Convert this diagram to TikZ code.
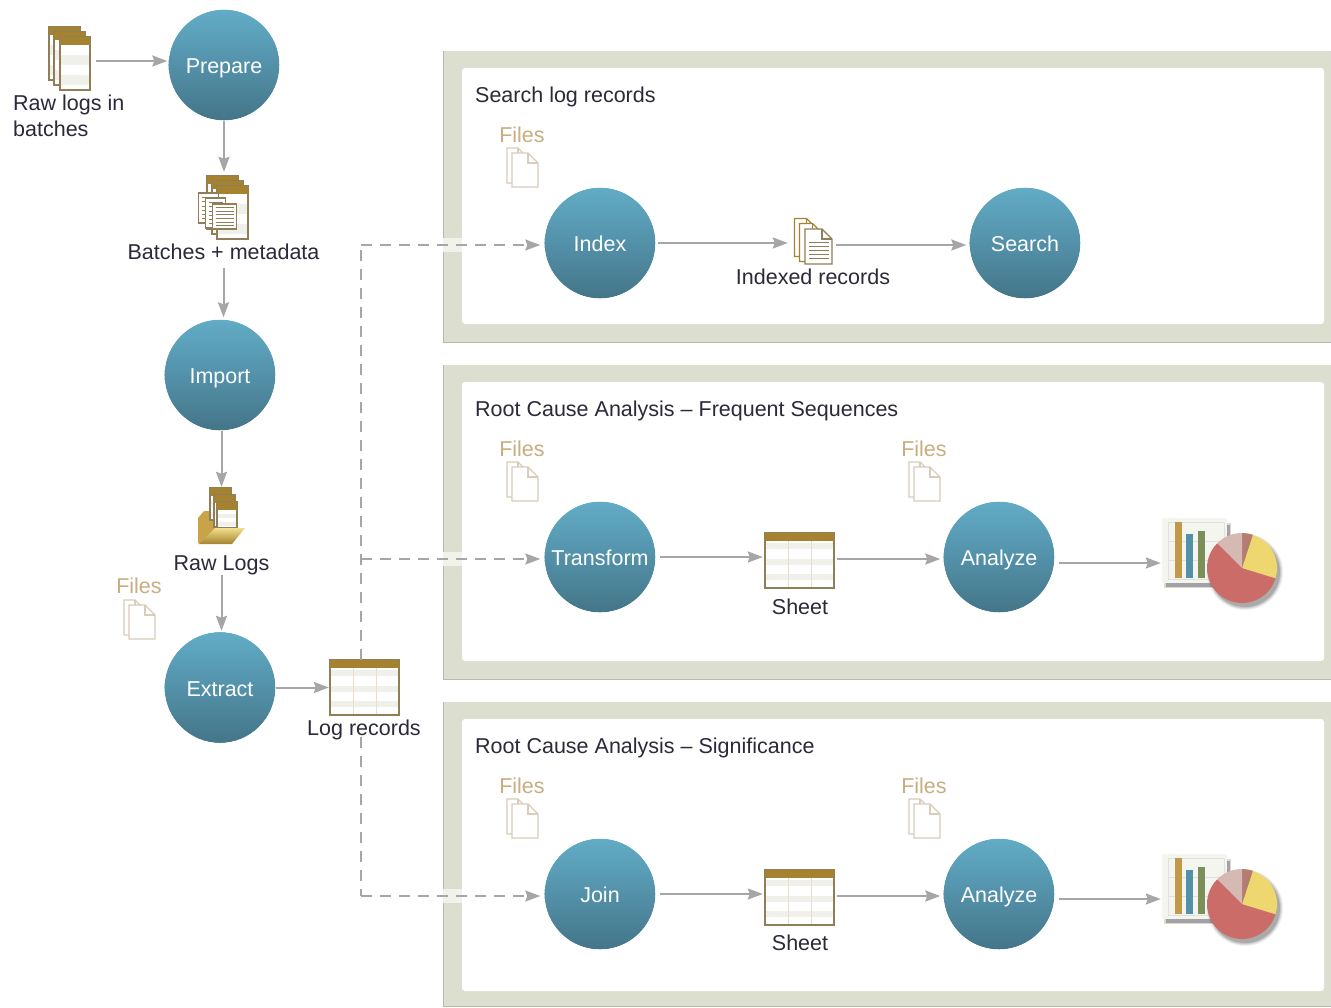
\documentclass[tikz,border=0pt]{standalone}
\usepackage{fontspec}
\setmainfont{Liberation Sans}
\usetikzlibrary{arrows.meta,calc}
\definecolor{panelc}{HTML}{DCDED0}
\definecolor{paneledge}{HTML}{B8BBAB}
\definecolor{patchc}{HTML}{F1F2EB}
\definecolor{flowc}{HTML}{A6A6A6}
\definecolor{inkc}{HTML}{2A2A3A}
\definecolor{filesc}{HTML}{C8AE80}
\definecolor{fileline}{HTML}{D8CCBA}
\definecolor{brownc}{HTML}{A5822F}
\definecolor{pageline}{HTML}{8E7F58}
\definecolor{stripec}{HTML}{F0F0EA}
\definecolor{gridc}{HTML}{EBDDCB}
\definecolor{circtop}{HTML}{62ACC6}
\definecolor{circmid}{HTML}{5391A9}
\definecolor{circbot}{HTML}{447588}
\definecolor{pieR}{HTML}{CB6C68}
\definecolor{pieY}{HTML}{EFD770}
\definecolor{pieB}{HTML}{B47D70}
\definecolor{pieP}{HTML}{D5B9B2}
\definecolor{barO}{HTML}{C4984A}
\definecolor{barG}{HTML}{7C8F58}
\definecolor{folderc}{HTML}{C9A347}
\tikzset{
  step node/.style={circle,minimum size=111pt,inner sep=0pt,top color=circtop,bottom color=circbot,middle color=circmid,text=white,text height=19pt,text depth=2pt,font=\fontsize{21.5}{24}\selectfont},
  txt/.style={inner sep=0pt,text=inkc,text height=16pt,text depth=2pt,font=\fontsize{21.5}{24}\selectfont},
  filestxt/.style={txt,text=filesc},
  iconbox/.style={inner sep=0pt,draw=none,fill=none},
  flow/.style={draw=flowc,line width=2pt,-{Stealth[length=15pt,width=11pt,inset=2pt]}},
  dashflow/.style={draw=flowc,line width=1.6pt,dash pattern=on 11pt off 8pt},
  dashend/.style={dashflow,-{Stealth[length=15pt,width=11pt,inset=2pt,sep=0pt]}},
}
\newcommand{\logpage}[4]{% x y w h
  \fill[white] (#1,#2) rectangle ++(#3,#4);
  \foreach \k in {1,3}{\fill[stripec] (#1,{#2+8+\k*(#4-8)/4.5}) rectangle ++(#3,{(#4-8)/4.5});}
  \draw[pageline,line width=1.1pt] (#1,#2) rectangle ++(#3,#4);
  \fill[brownc] (#1,#2) rectangle ++(#3,8);
}
\newcommand{\textdoc}[4]{% x y w h
  \fill[white] (#1,#2) rectangle ++(#3,#4);
  \draw[pageline,line width=1.1pt] (#1,#2) rectangle ++(#3,#4);
  \foreach \k in {1,...,6}{\draw[pageline,line width=.7pt] ({#1+3},{#2+\k*#4/7}) -- ({#1+#3-3},{#2+\k*#4/7});}
}
\newcommand{\sheeticon}[2]{% top-left
  \begin{scope}[shift={(#1,#2)}]
    \fill[white] (0,0) rectangle (69,55);
    \foreach \k in {16,32,47}{\fill[stripec] (0,\k-6) rectangle (69,\k);}
    \draw[gridc,line width=1pt] (23,8) -- (23,55) (46,8) -- (46,55);
    \draw[pageline,line width=1.2pt] (0,0) rectangle (69,55);
    \fill[brownc] (0,0) rectangle (69,8);
  \end{scope}
}
\newcommand{\onefile}[6]{% x y w h colour width
  \fill[white,draw=#5,line width=#6] (#1,#2) -- ++({#3-10},0) -- ++(10,10) -- ({#1+#3},{#2+#4}) -- (#1,{#2+#4}) -- cycle;
  \draw[#5,line width=#6] ({#1+#3-10},#2) -- ({#1+#3-10},{#2+10}) -- ({#1+#3},{#2+10});
}
\newcommand{\filesicon}[2]{%
  \begin{scope}[shift={(#1,#2)}]
    \onefile{0}{0}{21}{35}{fileline}{1.3pt}
    \onefile{5}{5}{26}{34}{fileline}{1.3pt}
  \end{scope}
}
\newcommand{\chartpie}[2]{% top-left of chart panel
  \begin{scope}[shift={(#1,#2)}]
    \fill[black,opacity=.15] (2,5) rectangle (69,70);
    \fill[black,opacity=.25] (4,7) rectangle (68,69);
    \fill[stripec!70!white] (0,0) rectangle (65,65);
    \draw[black!12,line width=.6pt] (6,4) rectangle (62,61) (6,23) -- (62,23) (6,42) -- (62,42);
    \fill[barO] (13,4) rectangle (20,60);
    \fill[circmid] (24,16) rectangle (31,60);
    \fill[barG] (36,13) rectangle (43,60);
    \begin{scope}[shift={(80,50)}]
      \foreach \r/\o in {38/.06,37/.08,36/.1,35/.14}{\fill[black,opacity=\o] (3,4) circle (\r pt);}
      \fill[pieR] (0,0) -- (-17:35pt) arc (-17:-225:35pt) -- cycle;
      \fill[pieY] (0,0) -- (72:35pt) arc (72:-17:35pt) -- cycle;
      \fill[pieB] (0,0) -- (90:35pt) arc (90:72:35pt) -- cycle;
      \fill[pieP] (0,0) -- (135:35pt) arc (135:90:35pt) -- cycle;
    \end{scope}
  \end{scope}
}
\newcommand{\panelbox}[4]{% outer top, outer bottom, inner top, inner bottom
  \fill[panelc] (443,#1) rectangle (1331,#2);
  \draw[paneledge,line width=1.2pt] (443.6,#1) -- (443.6,{#2-0.6}) -- (1331,{#2-0.6});
  \fill[white,rounded corners=3pt] (462,#3) rectangle (1324,#4);
}
\begin{document}
\begin{tikzpicture}[x=1pt,y=-1pt]
\useasboundingbox (0,0) rectangle (1331,1007);
\fill[white] (0,0) rectangle (1331,1007);
% panels
\panelbox{51}{343}{68}{324}
\panelbox{365}{680}{382}{661}
\panelbox{702}{1007}{719}{991}
\fill[patchc] (443,238) rectangle (462,252);
\fill[patchc] (443,552) rectangle (462,566);
\fill[patchc] (443,889) rectangle (462,903);
% circles
\node[step node] (prepare) at (224,65) {Prepare};
\node[step node] (import) at (220,375) {Import};
\node[step node] (extract) at (220,687.5) {Extract};
\node[step node] (index) at (600,243) {Index};
\node[step node] (search) at (1025,243) {Search};
\node[step node] (transform) at (600,557) {Transform};
\node[step node] (analyzeA) at (999,557) {Analyze};
\node[step node] (join) at (600,894) {Join};
\node[step node] (analyzeB) at (999,894) {Analyze};
\foreach \c in {prepare,import,extract,index,search,transform,analyzeA,join,analyzeB}{
  \draw[white,line width=1.5pt] (\c.center) circle (56.3pt);
}
% icon anchor boxes
\node[iconbox,minimum width=42pt,minimum height=68pt] (rawbatch) at (69,61) {};
\node[iconbox,minimum width=50pt,minimum height=63pt] (batchicon) at (223,207.5) {};
\node[iconbox,minimum width=47pt,minimum height=56pt] (rawicon) at (221.5,516) {};
\node[iconbox,minimum width=69pt,minimum height=55pt] (logrec) at (364.5,687.5) {};
\node[iconbox,minimum width=38pt,minimum height=38pt] (idxicon) at (813,245) {};
\node[iconbox,minimum width=69pt,minimum height=55pt] (sheetA) at (799.5,560.5) {};
\node[iconbox,minimum width=69pt,minimum height=55pt] (sheetB) at (799.5,897) {};
\node[iconbox,minimum width=116pt,minimum height=90pt] (chartA) at (1220,563) {};
\node[iconbox,minimum width=116pt,minimum height=90pt] (chartB) at (1220,899) {};
% raw log batches
\logpage{49}{27}{31}{53}\logpage{54}{32}{31}{53}\logpage{60}{37}{30}{53}
% batches + metadata
\logpage{207}{176}{31}{53}\logpage{212}{181}{31}{53}\logpage{217}{186}{31}{53}
\textdoc{198.5}{193}{20}{30}\textdoc{205.5}{198}{20}{30}\textdoc{212.5}{204}{24}{25}
% raw logs folder
\fill[folderc] (198,518) -- (204,511) -- (212,511) -- (216,515) -- (216,528) -- (200,544) -- (198,543) -- cycle;
\logpage{210}{488}{21}{32}\logpage{214}{495}{21}{32}\logpage{217}{502}{20}{26}
\shade[top color=pieY!80!white,bottom color=brownc] (215,528) -- (245,528) -- (232,544) -- (199,544) -- cycle;
% log records sheet, sheets
\sheeticon{330}{660}
\sheeticon{765}{533}
\sheeticon{765}{870}
% indexed records icon
\begin{scope}
  \onefile{794.5}{218.5}{22}{38}{brownc}{1.2pt}
  \onefile{799.5}{223.5}{23}{38}{brownc}{1.2pt}
  \onefile{805}{229}{27}{35}{pageline}{1.2pt}
  \foreach \k in {242,246,250,254,258}{\draw[pageline,line width=.8pt] (809,\k) -- (829,\k);}
\end{scope}
% files icons
\filesicon{124}{600}
\filesicon{507}{148}
\filesicon{507}{462}
\filesicon{909}{462}
\filesicon{507}{799}
\filesicon{909}{799}
% charts
\chartpie{1162}{518}
\chartpie{1162}{854}
% labels
\node[txt,anchor=west] (lblraw) at (13,103.5) {Raw logs in};
\node[txt,anchor=west] (lblrawb) at (13,129.5) {batches};
\node[txt] (lblbatch) at (223.5,252.5) {Batches + metadata};
\node[txt] (lblrawlogs) at (221.5,563) {Raw Logs};
\node[txt] (lbllog) at (364,728) {Log records};
\node[txt] (lblidx) at (813,277) {Indexed records};
\node[txt] (lblsheetA) at (800,607) {Sheet};
\node[txt] (lblsheetB) at (800,943) {Sheet};
\node[txt,anchor=west] (ttlA) at (475,95) {Search log records};
\node[txt,anchor=west] (ttlB) at (475,409) {Root Cause Analysis – Frequent Sequences};
\node[txt,anchor=west] (ttlC) at (475,746) {Root Cause Analysis – Significance};
\node[filestxt] (fa) at (139,586) {Files};
\node[filestxt] (fb) at (522,135) {Files};
\node[filestxt] (fc) at (522,449) {Files};
\node[filestxt] (fd) at (924,449) {Files};
\node[filestxt] (fe) at (522,786) {Files};
\node[filestxt] (ff) at (924,786) {Files};
% connectors
\draw[flow,shorten <=6pt,shorten >=1pt] (rawbatch.east) -- (rawbatch.east -| prepare.west);
\draw[flow,shorten >=4pt] (prepare.south) -- (prepare.south |- batchicon.north);
\draw[flow,shorten <=6pt,shorten >=2pt] (lblbatch.south) -- (lblbatch.south |- import.north);
\draw[flow,shorten >=1pt] (import.south -| rawicon.north) -- (rawicon.north);
\draw[flow,shorten <=3pt,shorten >=1pt] (lblrawlogs.south) -- (lblrawlogs.south |- extract.north);
\draw[flow,shorten >=1pt] (extract.east) -- (logrec.west);
\draw[flow,shorten <=2pt,shorten >=6pt] (index.east) -- (index.east -| idxicon.west);
\draw[flow,shorten <=4pt,shorten >=3pt] (idxicon.east) -- (idxicon.east -| search.west);
\draw[flow,shorten <=4pt,shorten >=2pt] (transform.east) -- (transform.east -| sheetA.west);
\draw[flow,shorten <=3pt,shorten >=3pt] ([yshift=1.5pt]sheetA.east) -- ([yshift=1.5pt]sheetA.east -| analyzeA.west);
\draw[flow,shorten <=4pt,shorten >=1pt] (chartA.west -| analyzeA.east) -- (chartA.west);
\draw[flow,shorten <=4pt,shorten >=2pt] (join.east) -- (join.east -| sheetB.west);
\draw[flow,shorten <=3pt,shorten >=3pt] ([yshift=1pt]sheetB.east) -- ([yshift=1pt]sheetB.east -| analyzeB.west);
\draw[flow,shorten <=4pt,shorten >=1pt] (chartB.west -| analyzeB.east) -- (chartB.west);
% dashed routes
\coordinate (busA) at (361,245);
\coordinate (busB) at (361,559);
\coordinate (busC) at (361,896);
\draw[dashflow] (busA |- logrec.north) -- (busA);
\draw[dashend,shorten >=4pt] (busA) -- (busA -| index.west);
\draw[dashend,shorten >=4pt] (busB) -- (busB -| transform.west);
\draw[dashflow] (busC |- lbllog.south) -- (busC);
\draw[dashend,shorten >=4pt] (busC) -- (busC -| join.west);
\end{tikzpicture}
\end{document}
